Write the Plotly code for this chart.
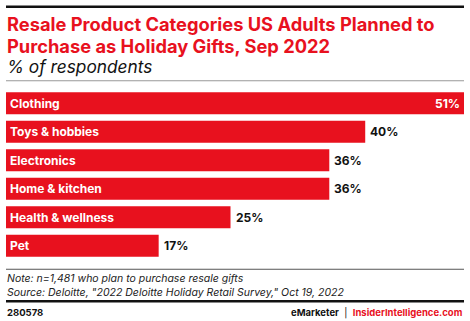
import plotly.graph_objects as go

categories = ["Clothing", "Toys & hobbies", "Electronics", "Home & kitchen",
              "Health & wellness", "Pet"]
values = [51, 40, 36, 36, 25, 17]
value_labels = ["51%", "40%", "36%", "36%", "25%", "17%"]
title_lines = ["Resale Product Categories US Adults Planned to",
               "Purchase as Holiday Gifts, Sep 2022"]

RED = "#E8111E"
FONT = "Inter"
W, H = 470, 321
ML, MR, MT, MB = 6, 6, 88.75, 61.25
PW, PH = W - ML - MR, H - MT - MB

fig = go.Figure(go.Bar(
    y=categories, x=values, orientation="h",
    marker=dict(color=RED, line=dict(width=0)),
    hoverinfo="skip",
))

annotations = []
for cat, val, lab in zip(categories, values, value_labels):
    # category name inside the bar
    annotations.append(dict(
        x=0, y=cat, xref="x", yref="y", text=f"<b>{cat}</b>",
        showarrow=False, xanchor="left", xshift=2,
        font=dict(family=FONT, size=12, color="white"),
    ))
    # value label: inside for the longest bar, outside otherwise
    inside = val == max(values)
    annotations.append(dict(
        x=val, y=cat, xref="x", yref="y", text=f"<b>{lab}</b>",
        showarrow=False, xanchor="right" if inside else "left",
        xshift=-2 if inside else 3,
        font=dict(family=FONT, size=12, color="white" if inside else "#111111"),
    ))

def py(px):
    # pixel row from the top of the figure -> paper y
    return (H - MB - px) / PH

def px_x(px):
    # pixel column from the left of the figure -> paper x
    return (px - ML) / PW

# title, one annotation per line
for i, line in enumerate(title_lines):
    annotations.append(dict(
        x=px_x(5), y=py(11 + 21.5 * i), xref="paper", yref="paper",
        xanchor="left", yanchor="top", text=f"<b>{line}</b>",
        showarrow=False, align="left",
        font=dict(family=FONT, size=18.3, color=RED)))

annotations += [
    dict(x=px_x(5), y=py(54), xref="paper", yref="paper", xanchor="left", yanchor="top",
         text="<i>% of respondents</i>", showarrow=False, align="left",
         font=dict(family=FONT, size=17.3, color="#111111")),
    dict(x=px_x(5), y=py(270), xref="paper", yref="paper", xanchor="left", yanchor="top",
         text="<i>Note: n=1,481 who plan to purchase resale gifts<br>Source: Deloitte, \"2022 Deloitte Holiday Retail Survey,\" Oct 19, 2022</i>",
         showarrow=False, align="left",
         font=dict(family=FONT, size=10.5, color="#222222")),
    dict(x=px_x(5), y=py(305), xref="paper", yref="paper", xanchor="left", yanchor="top",
         text="<b>280578</b>", showarrow=False,
         font=dict(family=FONT, size=9.5, color="#111111")),
    dict(x=px_x(465), y=py(305), xref="paper", yref="paper", xanchor="right", yanchor="top",
         text=f"<b>eMarketer</b>  |  <b><span style='color:{RED}'>InsiderIntelligence.com</span></b>",
         showarrow=False,
         font=dict(family=FONT, size=9.5, color="#111111")),
]

shapes = [
    dict(type="line", xref="paper", yref="paper", x0=px_x(6), x1=px_x(464),
         y0=py(6.5), y1=py(6.5), line=dict(color="#111111", width=2.5)),
    dict(type="line", xref="paper", yref="paper", x0=px_x(6), x1=px_x(464),
         y0=py(80.5), y1=py(80.5), line=dict(color="#999999", width=1)),
    dict(type="line", xref="paper", yref="paper", x0=px_x(6), x1=px_x(464),
         y0=py(269), y1=py(269), line=dict(color="#555555", width=1)),
    dict(type="line", xref="paper", yref="paper", x0=px_x(6), x1=px_x(464),
         y0=py(301), y1=py(301), line=dict(color="#111111", width=2.5)),
]

fig.update_layout(
    width=W, height=H, autosize=False,
    margin=dict(l=ML, r=MR, t=MT, b=MB, pad=0),
    paper_bgcolor="white", plot_bgcolor="white",
    bargap=0.228, showlegend=False,
    xaxis=dict(range=[0, 51], visible=False, fixedrange=True),
    yaxis=dict(autorange="reversed", visible=False, fixedrange=True),
    annotations=annotations, shapes=shapes,
)

fig.write_html("out.html", config={"displayModeBar": False})
